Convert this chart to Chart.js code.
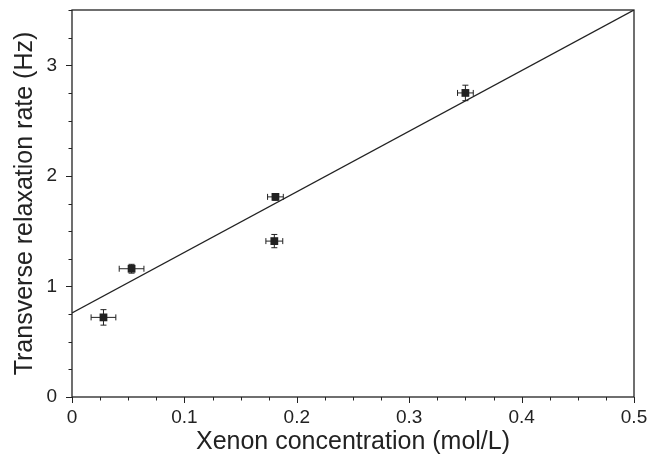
<!DOCTYPE html>
<html>
<head>
<meta charset="utf-8">
<script src="https://cdn.jsdelivr.net/npm/chart.js@4.4.1/dist/chart.umd.min.js"></script>
<style>
  html, body { margin: 0; padding: 0; background: #fff; }
  #wrap { width: 649px; height: 459px; }
</style>
</head>
<body>
<div id="wrap"><canvas id="relaxChart" width="649" height="459"></canvas></div>
<script>
// measured points with their uncertainties
var xenonConc = [0.028, 0.053, 0.181, 0.180, 0.350];
var relaxRate = [0.72, 1.16, 1.81, 1.41, 2.75];
var concErr = [0.011, 0.011, 0.007, 0.0075, 0.007];
var rateErr = [0.07, 0.04, 0.03, 0.06, 0.07];

// linear fit, end points
var fitX = [0, 0.5];
var fitY = [0.76, 3.5];

var xTickLabels = ["0", "0.1", "0.2", "0.3", "0.4", "0.5"];
var yTickLabels = ["0", "1", "2", "3"];

var ink = "#222";

var points = xenonConc.map(function (x, i) {
  return { x: x, y: relaxRate[i], xe: concErr[i], ye: rateErr[i] };
});
var fitLine = fitX.map(function (x, i) {
  return { x: x, y: fitY[i] };
});

function near(v, step) {
  return Math.abs(v / step - Math.round(v / step)) < 1e-6;
}

// error bars, axis frame and tick marks
var extras = {
  id: "extras",
  afterDatasetsDraw: function (chart) {
    var ctx = chart.ctx;
    var xs = chart.scales.x, ys = chart.scales.y;
    ctx.save();
    ctx.strokeStyle = ink;
    ctx.lineWidth = 1;
    points.forEach(function (p) {
      var px = xs.getPixelForValue(p.x), py = ys.getPixelForValue(p.y);
      var x1 = xs.getPixelForValue(p.x - p.xe), x2 = xs.getPixelForValue(p.x + p.xe);
      var y1 = ys.getPixelForValue(p.y - p.ye), y2 = ys.getPixelForValue(p.y + p.ye);
      ctx.beginPath();
      ctx.moveTo(x1, py); ctx.lineTo(x2, py);
      ctx.moveTo(x1, py - 3); ctx.lineTo(x1, py + 3);
      ctx.moveTo(x2, py - 3); ctx.lineTo(x2, py + 3);
      ctx.moveTo(px, y1); ctx.lineTo(px, y2);
      ctx.moveTo(px - 3, y1); ctx.lineTo(px + 3, y1);
      ctx.moveTo(px - 3, y2); ctx.lineTo(px + 3, y2);
      ctx.stroke();
    });
    ctx.restore();
  },
  afterDraw: function (chart) {
    var ctx = chart.ctx;
    var a = chart.chartArea;
    var xs = chart.scales.x, ys = chart.scales.y;
    ctx.save();
    ctx.strokeStyle = ink;
    ctx.lineWidth = 1.3;
    ctx.strokeRect(a.left, a.top, a.right - a.left, a.bottom - a.top);
    ctx.lineWidth = 1;
    ctx.beginPath();
    for (var v = 0; v <= 0.5 + 1e-9; v += 0.025) {
      var px = Math.round(xs.getPixelForValue(v)) + 0.5;
      var len = near(v, 0.1) ? 6 : 3.5;
      ctx.moveTo(px, a.bottom);
      ctx.lineTo(px, a.bottom + len);
    }
    for (var w = 0; w <= 3.5 + 1e-9; w += 0.25) {
      var py = Math.round(ys.getPixelForValue(w)) + 0.5;
      var l2 = near(w, 1) ? 6 : 3.5;
      ctx.moveTo(a.left, py);
      ctx.lineTo(a.left - l2, py);
    }
    ctx.stroke();
    ctx.restore();
  }
};

var tickFont = { family: "'Liberation Sans', Arial, sans-serif", size: 19 };
var titleFont = { family: "'Liberation Sans', Arial, sans-serif", size: 25, lineHeight: 1.2 };

new Chart(document.getElementById("relaxChart"), {
  type: "scatter",
  data: {
    datasets: [
      {
        type: "line",
        data: fitLine,
        borderColor: ink,
        borderWidth: 1.3,
        pointRadius: 0,
        fill: false
      },
      {
        data: points,
        pointStyle: "rect",
        pointRadius: 5.5,
        backgroundColor: ink,
        borderColor: ink,
        borderWidth: 0
      }
    ]
  },
  options: {
    responsive: false,
    animation: false,
    layout: { padding: { top: 10, right: 15, left: 0, bottom: 0 } },
    plugins: { legend: { display: false }, tooltip: { enabled: false } },
    scales: {
      x: {
        type: "linear",
        min: 0,
        max: 0.5,
        afterFit: function (s) {
          s.height = 62;
          s.paddingLeft = 0;
          s.paddingRight = 0;
        },
        grid: { display: false, drawTicks: false },
        border: { display: false },
        ticks: {
          stepSize: 0.025,
          autoSkip: false,
          maxRotation: 0,
          padding: 9,
          color: ink,
          font: tickFont,
          callback: function (v) {
            return near(v, 0.1) ? xTickLabels[Math.round(v * 10)] : "";
          }
        },
        title: {
          display: true,
          text: "Xenon concentration (mol/L)",
          color: ink,
          font: titleFont,
          padding: { top: 0, bottom: 2 }
        }
      },
      y: {
        type: "linear",
        min: 0,
        max: 3.5,
        afterFit: function (s) {
          s.width = 72;
          s.paddingTop = 0;
          s.paddingBottom = 0;
        },
        grid: { display: false, drawTicks: false },
        border: { display: false },
        ticks: {
          stepSize: 0.25,
          autoSkip: false,
          padding: 15,
          color: ink,
          font: tickFont,
          callback: function (v) {
            return near(v, 1) ? yTickLabels[Math.round(v)] : "";
          }
        },
        title: {
          display: true,
          text: "Transverse relaxation rate (Hz)",
          color: ink,
          font: titleFont,
          padding: { top: 10, bottom: 0 }
        }
      }
    }
  },
  plugins: [extras]
});
</script>
</body>
</html>
